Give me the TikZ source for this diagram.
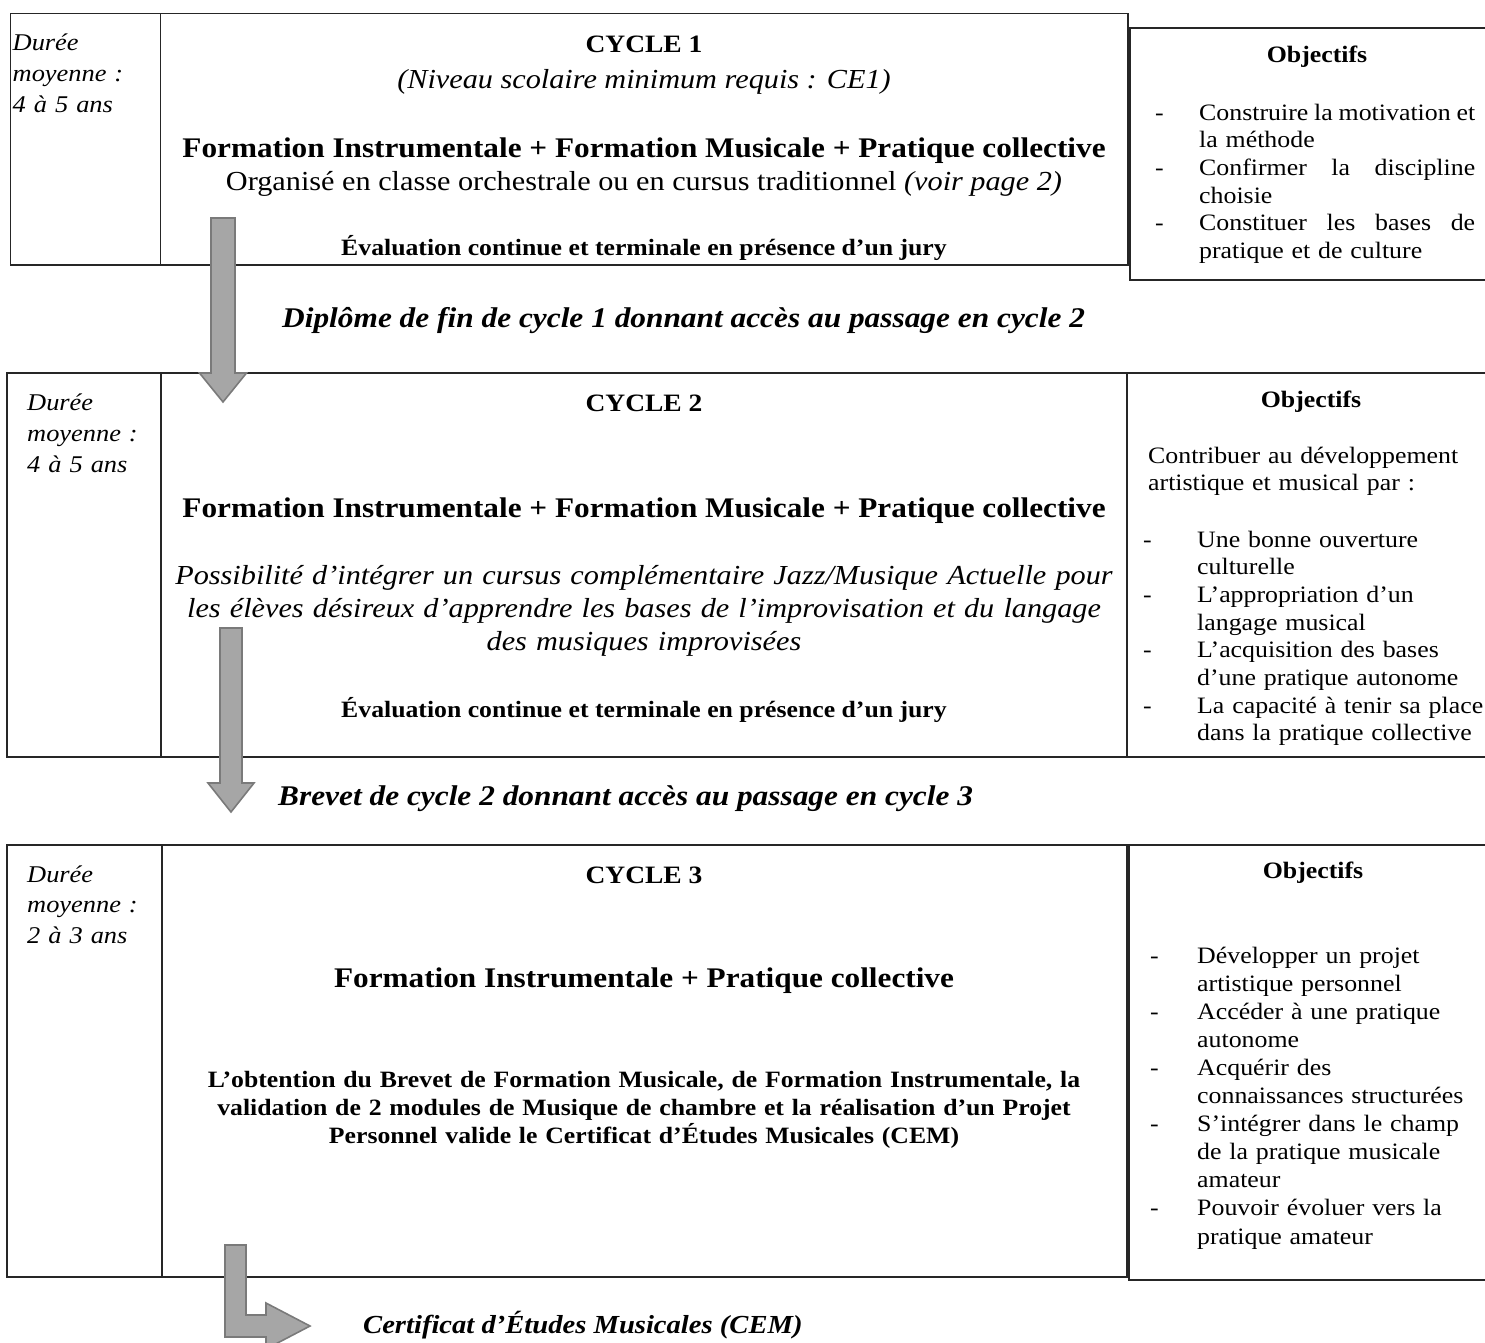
\documentclass[tikz,border=0pt]{standalone}
\usepackage{fontspec}
\setmainfont[FakeStretch=1.1]{Liberation Serif}

% font sizes (1pt = 1px of the page)
\newcommand{\dureefont}{\fontsize{24}{31}\selectfont\itshape}
\newcommand{\cyclefont}{\fontsize{25}{30}\selectfont\bfseries}
\newcommand{\headfont}{\fontsize{28.4}{33}\selectfont\bfseries}
\newcommand{\bodyfont}{\fontsize{27.5}{33}\selectfont}
\newcommand{\evalfont}{\fontsize{23.4}{28}\selectfont\bfseries}
\newcommand{\objfont}{\fontsize{23.5}{27.7}\selectfont}
\newcommand{\passfont}{\fontsize{28.5}{32}\selectfont\bfseries\itshape}
\newcommand{\itemdash}[1]{\makebox[#1][l]{-}}

\begin{document}
\begin{tikzpicture}[x=1pt,y=-1pt,
    frame/.style={draw=black!85,line width=1.4pt},
    txt/.style={inner sep=0pt,anchor=base},
    blockarrow/.style={fill=black!35,draw=black!52,line width=1.6pt,line join=miter}]

    \useasboundingbox (0,0) rectangle (1485,1342);

    % Draw the cycle 1 table
    \draw[frame] (10.7,13.5) rectangle (1128,265);
    \draw[frame] (160.7,13.5) -- (160.7,265);
    \draw[frame] (1130,28) rectangle (1495,280);

    % Draw the cycle 2 table
    \draw[frame] (7,373) rectangle (1495,757);
    \draw[frame] (161,373) -- (161,757);
    \draw[frame] (1127,373) -- (1127,757);

    % Draw the cycle 3 table
    \draw[frame] (7,845) rectangle (1127,1277);
    \draw[frame] (162,845) -- (162,1277);
    \draw[frame] (1129,845) rectangle (1495,1280);

    % Cycle 1 text
    \node[txt,anchor=base west,text width=140pt,align=left,font=\dureefont] (dur1) at (12.5,50) {Durée\\moyenne :\\4 à 5 ans};
    \node[txt,font=\cyclefont] (cyc1) at (644,52) {CYCLE 1};
    \node[txt,font=\bodyfont\itshape] (niv1) at (644,88) {(Niveau scolaire minimum requis : CE1)};
    \node[txt,font=\headfont] (form1) at (644,157) {Formation Instrumentale + Formation Musicale + Pratique collective};
    \node[txt,font=\bodyfont] (org1) at (644,190) {Organisé en classe orchestrale ou en cursus traditionnel \textit{(voir page 2)}};
    \node[txt,font=\evalfont] (eval1) at (644,255) {Évaluation continue et terminale en présence d’un jury};
    \node[txt,font=\objfont\bfseries] (objt1) at (1317,62) {Objectifs};
    \node[txt,anchor=base west,text width=330pt,align=left,font=\objfont] (obj1) at (1155,120)
        {\itemdash{44pt}\makebox[276pt]{Construire\hfill la\hfill motivation\hfill et}\\
         \hspace*{44pt}la méthode\\
         \itemdash{44pt}\makebox[276pt]{Confirmer\hfill la\hfill discipline}\\
         \hspace*{44pt}choisie\\
         \itemdash{44pt}\makebox[276pt]{Constituer\hfill les\hfill bases\hfill de}\\
         \hspace*{44pt}pratique et de culture};

    % Text between cycle 1 and cycle 2
    \node[txt,anchor=base west,font=\passfont] (dipl) at (282,327) {Diplôme de fin de cycle 1 donnant accès au passage en cycle 2};

    % Cycle 2 text
    \node[txt,anchor=base west,text width=130pt,align=left,font=\dureefont] (dur2) at (27,410) {Durée\\moyenne :\\4 à 5 ans};
    \node[txt,font=\cyclefont] (cyc2) at (644,411) {CYCLE 2};
    \node[txt,font=\headfont] (form2) at (644,517) {Formation Instrumentale + Formation Musicale + Pratique collective};
    \node[txt,text width=950pt,align=center,font=\bodyfont\itshape] (jazz2) at (644,584)
        {Possibilité d’intégrer un cursus complémentaire Jazz/Musique Actuelle pour\\
         les élèves désireux d’apprendre les bases de l’improvisation et du langage\\
         des musiques improvisées};
    \node[txt,font=\evalfont] (eval2) at (644,717) {Évaluation continue et terminale en présence d’un jury};
    \node[txt,font=\objfont\bfseries] (objt2) at (1311,407) {Objectifs};
    \node[txt,anchor=base west,text width=330pt,align=left,font=\objfont] (intro2) at (1148,463)
        {Contribuer au développement\\artistique et musical par :};
    \node[txt,anchor=base west,text width=340pt,align=left,font=\objfont] (obj2) at (1143,547)
        {\itemdash{54pt}Une bonne ouverture\\
         \hspace*{54pt}culturelle\\
         \itemdash{54pt}L’appropriation d’un\\
         \hspace*{54pt}langage musical\\
         \itemdash{54pt}L’acquisition des bases\\
         \hspace*{54pt}d’une pratique autonome\\
         \itemdash{54pt}La capacité à tenir sa place\\
         \hspace*{54pt}dans la pratique collective};

    % Text between cycle 2 and cycle 3
    \node[txt,anchor=base west,font=\passfont] (brev) at (278,805) {Brevet de cycle 2 donnant accès au passage en cycle 3};

    % Cycle 3 text
    \node[txt,anchor=base west,text width=130pt,align=left,font=\fontsize{24}{30.5}\selectfont\itshape] (dur3) at (27,882) {Durée\\moyenne :\\2 à 3 ans};
    \node[txt,font=\cyclefont] (cyc3) at (644,883) {CYCLE 3};
    \node[txt,font=\headfont] (form3) at (644,987) {Formation Instrumentale + Pratique collective};
    \node[txt,text width=950pt,align=center,font=\evalfont] (cem3) at (644,1087)
        {L’obtention du Brevet de Formation Musicale, de Formation Instrumentale, la\\
         validation de 2 modules de Musique de chambre et la réalisation d’un Projet\\
         Personnel valide le Certificat d’Études Musicales (CEM)};
    \node[txt,font=\objfont\bfseries] (objt3) at (1313,878) {Objectifs};
    \node[txt,anchor=base west,text width=340pt,align=left,font=\fontsize{23.5}{28.1}\selectfont] (obj3) at (1150,963)
        {\itemdash{47pt}Développer un projet\\
         \hspace*{47pt}artistique personnel\\
         \itemdash{47pt}Accéder à une pratique\\
         \hspace*{47pt}autonome\\
         \itemdash{47pt}Acquérir des\\
         \hspace*{47pt}connaissances structurées\\
         \itemdash{47pt}S’intégrer dans le champ\\
         \hspace*{47pt}de la pratique musicale\\
         \hspace*{47pt}amateur\\
         \itemdash{47pt}Pouvoir évoluer vers la\\
         \hspace*{47pt}pratique amateur};

    % Final diploma
    \node[txt,anchor=base west,font=\fontsize{26}{30}\selectfont\bfseries\itshape] (cert) at (363,1333) {Certificat d’Études Musicales (CEM)};

    % Draw the grey block arrows
    \draw[blockarrow] (211,218) -- (235,218) -- (235,373) -- (246.5,373) -- (223,402) -- (199.5,373) -- (211,373) -- cycle;
    \draw[blockarrow] (220,628) -- (242,628) -- (242,783) -- (254,783) -- (231,812) -- (208,783) -- (220,783) -- cycle;
    \draw[blockarrow] (225,1245) -- (246,1245) -- (246,1315) -- (266,1315) -- (266,1303) -- (310,1326) -- (266,1349) -- (266,1337) -- (225,1337) -- cycle;

\end{tikzpicture}
\end{document}
